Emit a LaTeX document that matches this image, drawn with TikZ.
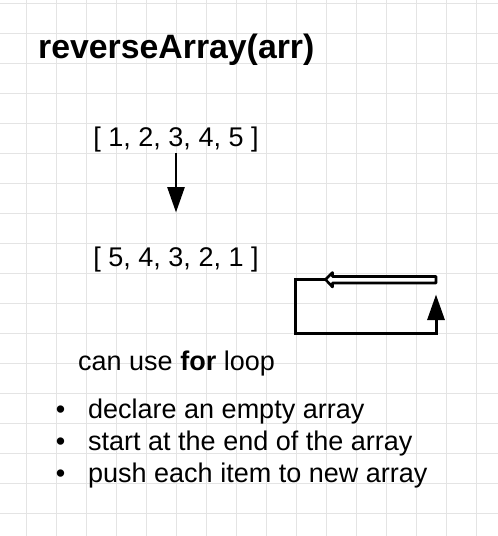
\documentclass[tikz,border=0pt]{standalone}
\usepackage{fontspec}
\setmainfont{Liberation Sans}
\usetikzlibrary{arrows.meta}
\begin{document}
\begin{tikzpicture}[x=1pt,y=-1pt,
  gridline/.style={draw=gridgray,line width=0.9pt},
  txt/.style={inner sep=0pt,font=\fontsize{27}{30}\selectfont},
  bigtitle/.style={inner sep=0pt,font=\fontsize{33.8}{38}\selectfont\bfseries},
  conn/.style={line width=2.8pt,-{Triangle[length=25.5pt,width=17pt]}},
  loopline/.style={line width=3pt,line join=miter}]
\definecolor{gridgray}{HTML}{E4E4E4}
\useasboundingbox (0,0) rectangle (498,536);
\fill[white] (0,0) rectangle (498,536);
% grid
\foreach \k in {0,...,15} \draw[gridline] (26.7+30*\k,0) -- (26.7+30*\k,536);
\foreach \k in {0,...,17} \draw[gridline] (0,3.3+30*\k) -- (498,3.3+30*\k);
% title
\node[bigtitle,anchor=base west] (title) at (38,58.5) {reverseArray(arr)};
% arrays
\node[txt,anchor=base] (arr1) at (176,146.5) {[ 1, 2, 3, 4, 5 ]};
\node[txt,anchor=base] (arr2) at (176,266.5) {[ 5, 4, 3, 2, 1 ]};
\coordinate (d1) at (176,153);
\coordinate (d2) at (176,212.5);
\draw[conn] (d1) -- (d2);
% loop
\coordinate (ltip) at (327,279.5);
\coordinate (lcorner1) at (295.5,279.5);
\coordinate (lcorner2) at (295.5,333.3);
\coordinate (lcorner3) at (436,333.3);
\coordinate (lup) at (436,294.5);
\draw[loopline,-{Triangle[length=25.5pt,width=17pt]}] (ltip) -- (lcorner1) -- (lcorner2) -- (lcorner3) -- (lup);
\draw[line width=2.6pt,fill=white,line join=round]
  (325.5,279.5) -- (332.5,272.5) -- (332.5,276.5) -- (436,276.5) -- (436,283) -- (332.5,283) -- (332.5,287) -- cycle;
% notes
\node[txt,anchor=base west] (note) at (78,370) {can use \textbf{for} loop};
\node[txt,anchor=base] (b1) at (60.7,418) {•};
\node[txt,anchor=base] (b2) at (60.7,450) {•};
\node[txt,anchor=base] (b3) at (60.7,482) {•};
\node[txt,anchor=base west] (i1) at (88,418) {declare an empty array};
\node[txt,anchor=base west] (i2) at (88,450) {start at the end of the array};
\node[txt,anchor=base west] (i3) at (88,482) {push each item to new array};
\end{tikzpicture}
\end{document}
